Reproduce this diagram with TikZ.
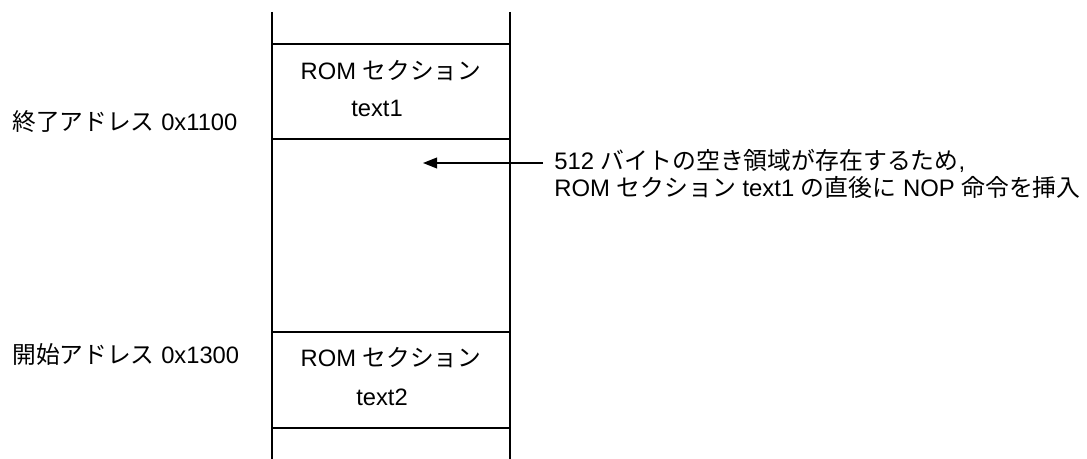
\documentclass[tikz,border=0pt]{standalone}
\usepackage{fontspec}
\setmainfont{Liberation Sans}
\newfontfamily\jp{Noto Sans CJK JP}
\usetikzlibrary{arrows.meta}
\tikzset{
  memline/.style={line width=1.4pt},
  txt/.style={inner sep=0pt, font=\fontsize{17.8pt}{21pt}\selectfont},
  notetxt/.style={inner sep=0pt, font=\fontsize{17.9pt}{21pt}\selectfont},
  arr/.style={line width=1.2pt, -{Triangle[length=10.5pt,width=8pt]}}
}
\begin{document}
\begin{tikzpicture}[x=0.75pt,y=-0.75pt]
\useasboundingbox (0,0) rectangle (1087,459);
% column
\coordinate (lt) at (272,12);
\coordinate (lb) at (272,459);
\coordinate (rt) at (510,12);
\coordinate (rb) at (510,459);
\draw[memline] (lt) -- (lb);
\draw[memline] (rt) -- (rb);
\foreach \y/\n in {44/a,139/b,332/c,428/d}{
  \coordinate (h\n l) at (272,\y);
  \coordinate (h\n r) at (510,\y);
  \draw[memline] (h\n l) -- (h\n r);
}
% section texts
\node[txt] (rom1) at (391,71) {ROM {\jp セクション}};
\node[txt] (t1) at (377,108) {text1};
\node[txt] (rom2) at (391,358) {ROM {\jp セクション}};
\node[txt] (t2) at (382,397) {text2};
% address labels
\node[txt, anchor=west] (endaddr) at (12,122) {{\jp 終了アドレス} 0x1100};
\node[txt, anchor=west] (startaddr) at (12,355) {{\jp 開始アドレス} 0x1300};
% annotation
\node[notetxt, anchor=west] (note1) at (554,161) {512 {\jp バイトの空き領域が存在するため}, };
\node[notetxt, anchor=west] (note2) at (554,187) {ROM {\jp セクション} text1 {\jp の直後に} NOP {\jp 命令を挿入}};
\coordinate (arrstart) at (543,163);
\coordinate (arrtip) at (423,163);
\draw[arr] (arrstart) -- (arrtip);
\end{tikzpicture}
\end{document}
